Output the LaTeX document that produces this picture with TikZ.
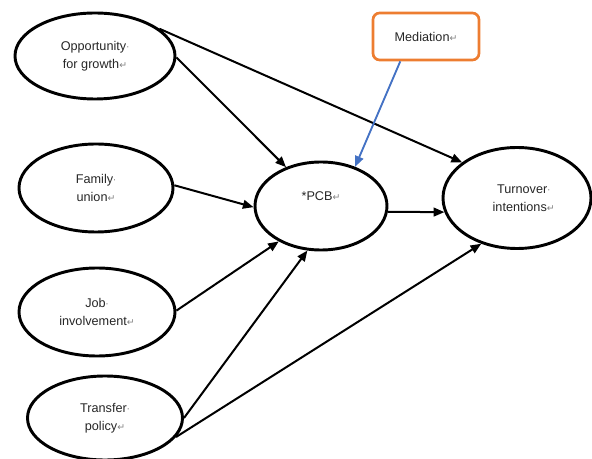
\documentclass[tikz,border=0pt]{standalone}
\usepackage{fontspec}
\setmainfont{Liberation Sans}
\newfontfamily\markfont{DejaVu Sans}
\usetikzlibrary{shapes.geometric,arrows.meta}
\definecolor{medorange}{HTML}{ED7D31}
\definecolor{medblue}{HTML}{4472C4}
\definecolor{markgray}{HTML}{808080}
\definecolor{textgray}{HTML}{262626}
\newcommand{\pmk}{\textcolor{markgray}{\markfont\scriptsize ·}}
\newcommand{\rmk}{\textcolor{markgray}{\markfont\scriptsize ↵}}
\begin{document}
\begin{tikzpicture}[x=0.75pt,y=-0.75pt,
  oval/.style={ellipse,draw,line width=2.2pt,inner sep=0pt,align=center,
    text=textgray,font=\fontsize{9.5}{13.5}\selectfont},
  link/.style={line width=1.5pt,-{Triangle[length=8pt,width=6.5pt]}},
  medlink/.style={draw=medblue,line width=1.4pt,-{Triangle[length=8pt,width=6.5pt]},medblue},
  medbox/.style={draw=medorange,line width=2pt,rounded corners=5pt,
    minimum width=106*0.75pt,minimum height=47*0.75pt,text=textgray,
    font=\fontsize{9.5}{13.5}\selectfont}]
\useasboundingbox (0,0) rectangle (592,459);
\clip (0,0) rectangle (592,459);
\node[oval,minimum width=160*0.75pt,minimum height=86*0.75pt] (opp) at (95,56)
  {Opportunity\pmk\\for growth\rmk};
\node[oval,minimum width=154*0.75pt,minimum height=88*0.75pt] (fam) at (96,188)
  {Family\pmk\\union\rmk};
\node[oval,minimum width=156*0.75pt,minimum height=88*0.75pt] (job) at (97,312)
  {Job\pmk\\involvement\rmk};
\node[oval,minimum width=155*0.75pt,minimum height=84*0.75pt] (tra) at (105,418)
  {Transfer\pmk\\policy\rmk};
\node[oval,minimum width=132*0.75pt,minimum height=88*0.75pt] (pcb) at (321,206)
  {*PCB\rmk\\[2pt]};
\node[oval,minimum width=148*0.75pt,minimum height=101*0.75pt] (tur) at (517,198)
  {\hspace*{10pt}Turnover\pmk\\\hspace*{10pt}intentions\rmk};
\node[medbox] (med) at (426,36.5) {Mediation\rmk};

\draw[link] (opp.-1) -- (pcb.132);
\draw[link] (opp.23) -- (tur.147);
\draw[link] (fam.2) -- (pcb.181);
\draw[link] (job.1.5) -- (pcb.220);
\draw[link] (tra.0) -- (pcb.253);
\draw[link] (tra.-15) -- (tur.232);
\draw[link] (pcb.-5) -- (tur.191);
\draw[medlink] (med.224) -- (pcb.49.5);
\end{tikzpicture}
\end{document}
